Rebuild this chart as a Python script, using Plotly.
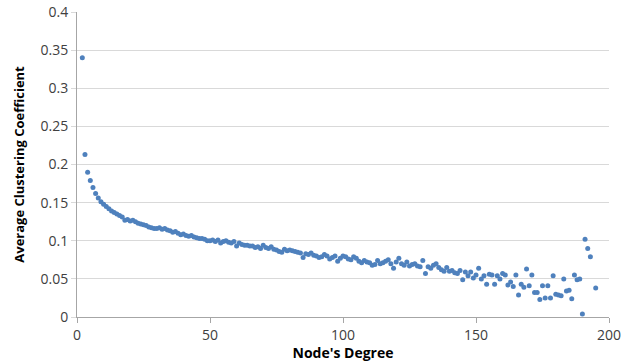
import plotly.graph_objects as go

degrees = list(range(2, 194)) + [195]
clustering = [
    0.340, 0.213, 0.190, 0.179, 0.170, 0.162, 0.156, 0.151, 0.148,  # 2-10
    0.145, 0.142, 0.139, 0.137, 0.135, 0.133, 0.131, 0.127, 0.128, 0.126,  # 11-20
    0.127, 0.125, 0.123, 0.122, 0.121, 0.120, 0.118, 0.117, 0.116, 0.116,  # 21-30
    0.117, 0.115, 0.116, 0.114, 0.113, 0.111, 0.112, 0.110, 0.108, 0.109,  # 31-40
    0.107, 0.106, 0.107, 0.105, 0.104, 0.103, 0.103, 0.102, 0.100, 0.100,  # 41-50
    0.101, 0.099, 0.101, 0.097, 0.099, 0.100, 0.098, 0.097, 0.099, 0.093,  # 51-60
    0.097, 0.095, 0.094, 0.094, 0.093, 0.093, 0.091, 0.092, 0.090, 0.094,  # 61-70
    0.091, 0.090, 0.092, 0.089, 0.088, 0.086, 0.085, 0.089, 0.087, 0.088,  # 71-80
    0.087, 0.086, 0.085, 0.084, 0.078, 0.083, 0.082, 0.084, 0.081, 0.080,  # 81-90
    0.078, 0.079, 0.082, 0.080, 0.076, 0.078, 0.080, 0.073, 0.077, 0.080,  # 91-100
    0.079, 0.076, 0.075, 0.079, 0.077, 0.073, 0.071, 0.074, 0.072, 0.071,  # 101-110
    0.068, 0.069, 0.074, 0.070, 0.071, 0.073, 0.075, 0.070, 0.064, 0.072,  # 111-120
    0.077, 0.070, 0.068, 0.072, 0.067, 0.069, 0.070, 0.067, 0.066, 0.074,  # 121-130
    0.057, 0.066, 0.064, 0.068, 0.070, 0.065, 0.062, 0.060, 0.065, 0.060,  # 131-140
    0.061, 0.058, 0.057, 0.061, 0.049, 0.059, 0.054, 0.059, 0.051, 0.055,  # 141-150
    0.064, 0.050, 0.054, 0.043, 0.056, 0.055, 0.043, 0.054, 0.050, 0.057,  # 151-160
    0.055, 0.042, 0.046, 0.040, 0.055, 0.029, 0.043, 0.039, 0.063, 0.041,  # 161-170
    0.055, 0.032, 0.032, 0.023, 0.041, 0.025, 0.041, 0.025, 0.054, 0.030,  # 171-180
    0.029, 0.028, 0.050, 0.034, 0.035, 0.024, 0.055, 0.049, 0.050, 0.004,  # 181-190
    0.102, 0.090, 0.079,  # 191-193
    0.038,  # 195
]

x_ticks = [0, 50, 100, 150, 200]
y_ticks = [0, 0.05, 0.1, 0.15, 0.2, 0.25, 0.3, 0.35, 0.4]
y_tick_labels = ["0", "0.05", "0.1", "0.15", "0.2", "0.25", "0.3", "0.35", "0.4"]

fig = go.Figure(
    go.Scatter(
        x=degrees,
        y=clustering,
        mode="markers",
        marker=dict(size=5, color="#4f81bd"),
        showlegend=False,
    )
)

font_family = "Open Sans, Lato, sans-serif"

fig.update_layout(
    width=638,
    height=362,
    margin=dict(l=77, r=29, t=12, b=45),
    paper_bgcolor="white",
    plot_bgcolor="white",
    font=dict(family=font_family, size=13, color="#404040"),
)

fig.update_xaxes(
    range=[0, 200],
    tickvals=x_ticks,
    automargin=False,
    showgrid=False,
    zeroline=False,
    showline=True,
    linecolor="#a6a6a6",
    linewidth=1,
    ticks="outside",
    ticklen=5,
    tickcolor="#a6a6a6",
    tickfont=dict(size=14, color="#404040"),
    title=dict(text="<b>Node's Degree</b>", font=dict(size=14, color="#000000"), standoff=4),
)

fig.update_yaxes(
    range=[0, 0.4],
    tickvals=y_ticks,
    ticktext=y_tick_labels,
    automargin=False,
    showgrid=True,
    gridcolor="#d9d9d9",
    gridwidth=1,
    zeroline=False,
    showline=True,
    linecolor="#a6a6a6",
    linewidth=1,
    ticks="outside",
    ticklen=5,
    tickcolor="#d9d9d9",
    tickfont=dict(size=14, color="#404040"),
    title=dict(text="<b>Average Clustering Coefficient</b>", font=dict(size=13, color="#000000"), standoff=12),
)

fig.write_html("out.html")
